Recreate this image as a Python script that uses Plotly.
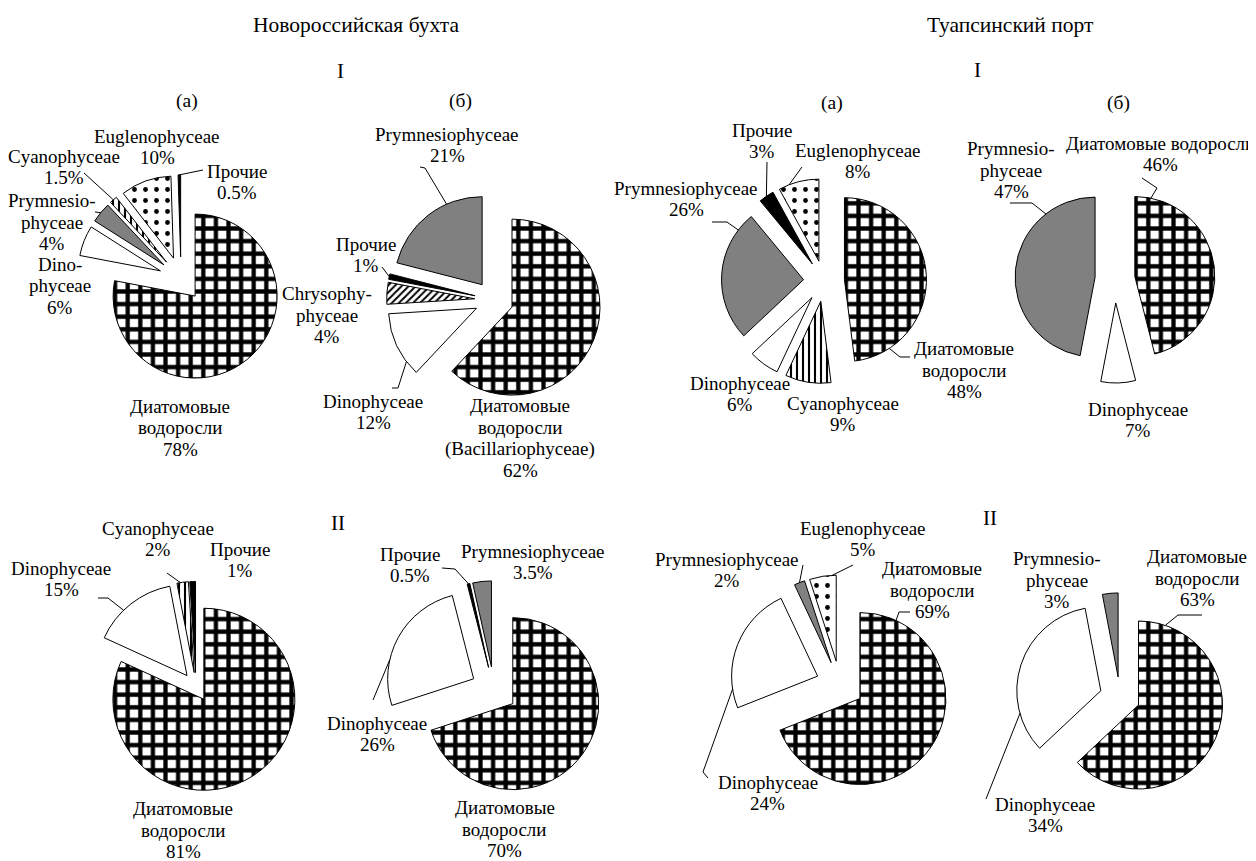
import math
import plotly.graph_objects as go

W, H = 1256, 861          # reference picture size
OFF = 8                   # page (body) margin of the html page
FW, FH = W - OFF, H - OFF  # figure size so that figure + margin fills the window
FONT = "Liberation Serif, Times New Roman, serif"

# ---------------- data ----------------
nov_I_a_labels = ['Диатомовые водоросли', 'Dinophyceae', 'Prymnesiophyceae', 'Cyanophyceae', 'Euglenophyceae', 'Прочие']
nov_I_a_values = [78, 6, 4, 1.5, 10, 0.5]

nov_I_b_labels = ['Диатомовые водоросли', 'Dinophyceae', 'Chrysophyceae', 'Прочие', 'Prymnesiophyceae']
nov_I_b_values = [62, 12, 4, 1, 21]

tua_I_a_labels = ['Диатомовые водоросли', 'Cyanophyceae', 'Dinophyceae', 'Prymnesiophyceae', 'Прочие', 'Euglenophyceae']
tua_I_a_values = [48, 9, 6, 26, 3, 8]

tua_I_b_labels = ['Диатомовые водоросли', 'Dinophyceae', 'Prymnesiophyceae']
tua_I_b_values = [46, 7, 47]

nov_II_a_labels = ['Диатомовые водоросли', 'Dinophyceae', 'Cyanophyceae', 'Прочие']
nov_II_a_values = [81, 15, 2, 1]

nov_II_b_labels = ['Диатомовые водоросли', 'Dinophyceae', 'Прочие', 'Prymnesiophyceae']
nov_II_b_values = [70, 26, 0.5, 3.5]

tua_II_a_labels = ['Диатомовые водоросли', 'Dinophyceae', 'Prymnesiophyceae', 'Euglenophyceae']
tua_II_a_values = [69, 24, 2, 5]

tua_II_b_labels = ['Диатомовые водоросли', 'Dinophyceae', 'Prymnesiophyceae']
tua_II_b_values = [63, 34, 3]

# ---------------- styles ----------------
STYLE = {
    'Диатомовые водоросли': dict(color='#ffffff', shape='+', size=12.6, solidity=0.56),
    'Dinophyceae': dict(color='#ffffff', shape='', size=8, solidity=0.3),
    'Prymnesiophyceae': dict(color='#808080', shape='', size=8, solidity=0.3),
    'Cyanophyceae': dict(color='#ffffff', shape='|', size=6, solidity=0.35),
    'Euglenophyceae': dict(color='#ffffff', shape='.', size=11, solidity=0.15),
    'Прочие': dict(color='#000000', shape='', size=8, solidity=0.3),
    'Chrysophyceae': dict(color='#ffffff', shape='/', size=5, solidity=0.4),
}
DEFAULT_NAMES = {'Диатомовые водоросли': 'Диатомовые<br>водоросли'}

# layout of each pie: centre / radius in px, explosion, label placement, leader lines
PIES = [
    dict(labels=nov_I_a_labels, values=nov_I_a_values, cx=181, cy=279, r=82, pull=0.27, pulls={},
         names={'Dinophyceae': 'Dino-<br>phyceae', 'Prymnesiophyceae': 'Prymnesio-<br>phyceae'},
         text={'Euglenophyceae': (157, 147), 'Cyanophyceae': (64, 167), 'Prymnesiophyceae': (52, 222),
               'Dinophyceae': (60, 286), 'Прочие': (237, 182), 'Диатомовые водоросли': (180, 428)},
         leaders={'Cyanophyceae': (0.5, [(84, 173)]), 'Prymnesiophyceae': (0.5, [(95, 212)]),
                  'Прочие': (0.5, [(203, 170)])}),
    dict(labels=nov_I_b_labels, values=nov_I_b_values, cx=494, cy=300, r=88, pull=0.22, pulls={},
         names={'Chrysophyceae': 'Chrysophy-<br>phyceae',
                'Диатомовые водоросли': 'Диатомовые<br>водоросли<br>(Bacillariophyceae)'},
         text={'Prymnesiophyceae': (447, 145), 'Прочие': (366, 255), 'Chrysophyceae': (327, 315),
               'Dinophyceae': (373, 412), 'Диатомовые водоросли': (520, 438)},
         leaders={'Prymnesiophyceae': (0.685, [(420, 167), (425, 168)]), 'Прочие': (0.5, [(382, 267)]),
                  'Dinophyceae': (0.22, [(392, 388), (398, 388)])}),
    dict(labels=tua_I_a_labels, values=tua_I_a_values, cx=824, cy=281, r=82, pull=0.25, pulls={},
         names={},
         text={'Прочие': (762, 141), 'Euglenophyceae': (858, 161), 'Prymnesiophyceae': (686, 199),
               'Dinophyceae': (740, 394), 'Cyanophyceae': (843, 414), 'Диатомовые водоросли': (964, 370)},
         leaders={'Прочие': (0.5, [(767, 162)]), 'Euglenophyceae': (0.26, [(802, 167)]),
                  'Prymnesiophyceae': (0.86, [(712, 222), (727, 222)]),
                  'Диатомовые водоросли': (0.85, [(910, 357), (900, 357)])}),
    dict(labels=tua_I_b_labels, values=tua_I_b_values, cx=1115, cy=279, r=80, pull=0.25,
         pulls={'Dinophyceae': 0.3},
         names={'Prymnesiophyceae': 'Prymnesio-<br>phyceae', 'Диатомовые водоросли': 'Диатомовые водоросли'},
         text={'Prymnesiophyceae': (1011, 170), 'Диатомовые водоросли': (1160, 154), 'Dinophyceae': (1138, 420)},
         leaders={'Prymnesiophyceae': (0.776, [(1010, 203), (1032, 203)]),
                  'Диатомовые водоросли': (0.07, [(1142, 178), (1157, 188)])}),
    dict(labels=nov_II_a_labels, values=nov_II_a_values, cx=196, cy=687, r=91, pull=0.16, pulls={},
         names={},
         text={'Cyanophyceae': (158, 539), 'Прочие': (240, 560), 'Dinophyceae': (61, 579),
               'Диатомовые водоросли': (183, 830)},
         leaders={'Dinophyceae': (0.39, [(98, 598), (108, 598)]), 'Cyanophyceae': (0.3, [(167, 573)])}),
    dict(labels=nov_II_b_labels, values=nov_II_b_values, cx=494, cy=690, r=86, pull=0.27, pulls={},
         names={},
         text={'Прочие': (410, 565), 'Prymnesiophyceae': (533, 562), 'Dinophyceae': (377, 734),
               'Диатомовые водоросли': (505, 829)},
         leaders={'Прочие': (0.5, [(442, 568), (455, 569)]), 'Dinophyceae': (0.33, [(373, 700)])}),
    dict(labels=tua_II_a_labels, values=tua_II_a_values, cx=840, cy=685, r=86, pull=0.28, pulls={},
         names={},
         text={'Euglenophyceae': (863, 539), 'Prymnesiophyceae': (727, 570),
               'Диатомовые водоросли': (932, 590), 'Dinophyceae': (768, 793)},
         leaders={'Euglenophyceae': (0.85, [(853, 565)]), 'Prymnesiophyceae': (0.5, [(803, 565)]),
                  'Диатомовые водоросли': (0.10, [(910, 612), (899, 612)]),
                  'Dinophyceae': (0.15, [(708, 778), (703, 772)])}),
    dict(labels=tua_II_b_labels, values=tua_II_b_values, cx=1120, cy=697, r=84, pull=0.24, pulls={},
         names={'Prymnesiophyceae': 'Prymnesio-<br>phyceae'},
         text={'Prymnesiophyceae': (1057, 580), 'Диатомовые водоросли': (1197, 578), 'Dinophyceae': (1045, 815)},
         leaders={'Диатомовые водоросли': (0.082, [(1202, 615), (1178, 615)]),
                  'Dinophyceae': (0.225, [(986, 799)])}),
]

HEADERS = [
    ('Новороссийская бухта', 356, 25, 21.5), ('Туапсинский порт', 1010, 25, 21.5),
    ('I', 340, 71, 21), ('I', 977, 70, 21),
    ('(а)', 187, 101, 19.5), ('(б)', 460, 101, 19.5), ('(а)', 832, 103, 19.5), ('(б)', 1118, 103, 19.5),
    ('II', 338, 523, 21), ('II', 990, 518, 21),
]

LINE_STEP = 21.5


def px(x, y):
    """window pixel -> paper coordinates of the figure (figure starts at OFF, OFF)."""
    return (x - OFF) / FW, 1 - (y - OFF) / FH


fig = go.Figure()
annotations = []
shapes = []

for p in PIES:
    labels, values = p['labels'], p['values']
    pulls = [p['pulls'].get(l, p['pull']) for l in labels]
    maxpull = max(pulls)
    side = 2 * p['r'] * (1 + maxpull)
    cxf, cyf = p['cx'] - OFF, p['cy'] - OFF
    dom_x = [(cxf - side / 2) / FW, (cxf + side / 2) / FW]
    dom_y = [1 - (cyf + side / 2) / FH, 1 - (cyf - side / 2) / FH]
    colors = [STYLE[l]['color'] for l in labels]
    fig.add_trace(go.Pie(
        labels=labels, values=values, sort=False, direction='clockwise', rotation=0,
        pull=pulls, textinfo='none', hoverinfo='label+value', showlegend=False,
        marker=dict(colors=colors, line=dict(color='#000000', width=1),
                    pattern=dict(shape=[STYLE[l]['shape'] for l in labels],
                                 size=[STYLE[l]['size'] for l in labels],
                                 solidity=[STYLE[l]['solidity'] for l in labels],
                                 fgcolor=['#000000'] * len(labels), bgcolor=colors,
                                 fgopacity=1, fillmode='overlay')),
        domain=dict(x=dom_x, y=dom_y)))

    total = sum(values)
    for i, l in enumerate(labels):
        name = p['names'].get(l, DEFAULT_NAMES.get(l, l))
        txt = name + '<br>' + f"{values[i]:g}%"
        lines = txt.split('<br>')
        tx, ty = p['text'][l]
        n = len(lines)
        for k, line in enumerate(lines):
            xx, yy = px(tx, ty + (k - (n - 1) / 2) * LINE_STEP)
            annotations.append(dict(text=line, x=xx, y=yy, xref='paper', yref='paper',
                                    xanchor='center', yanchor='middle', showarrow=False,
                                    font=dict(family=FONT, size=19, color='#000000')))
        if l in p['leaders']:
            f, pts = p['leaders'][l]
            start = sum(values[:i]) / total * 360
            span = values[i] / total * 360
            mid = math.radians(start + span / 2)
            th = math.radians(start + f * span)
            pcx = p['cx'] + pulls[i] * p['r'] * math.sin(mid)
            pcy = p['cy'] - pulls[i] * p['r'] * math.cos(mid)
            ax_, ay_ = pcx + p['r'] * math.sin(th), pcy - p['r'] * math.cos(th)
            allpts = list(pts) + [(ax_, ay_)]
            path = ''
            for j, (xq, yq) in enumerate(allpts):
                a, b = px(xq, yq)
                path += ('M' if j == 0 else 'L') + f'{a:.5f},{b:.5f}'
            shapes.append(dict(type='path', path=path, xref='paper', yref='paper',
                               line=dict(color='#000000', width=1)))

for t, x, y, s in HEADERS:
    xx, yy = px(x, y)
    annotations.append(dict(text=t, x=xx, y=yy, xref='paper', yref='paper', xanchor='center',
                            yanchor='middle', showarrow=False,
                            font=dict(family=FONT, size=s, color='#000000')))

fig.update_layout(width=FW, height=FH, margin=dict(l=0, r=0, t=0, b=0),
                  paper_bgcolor='#ffffff', plot_bgcolor='#ffffff',
                  annotations=annotations, shapes=shapes)

fig.write_html("out.html")
